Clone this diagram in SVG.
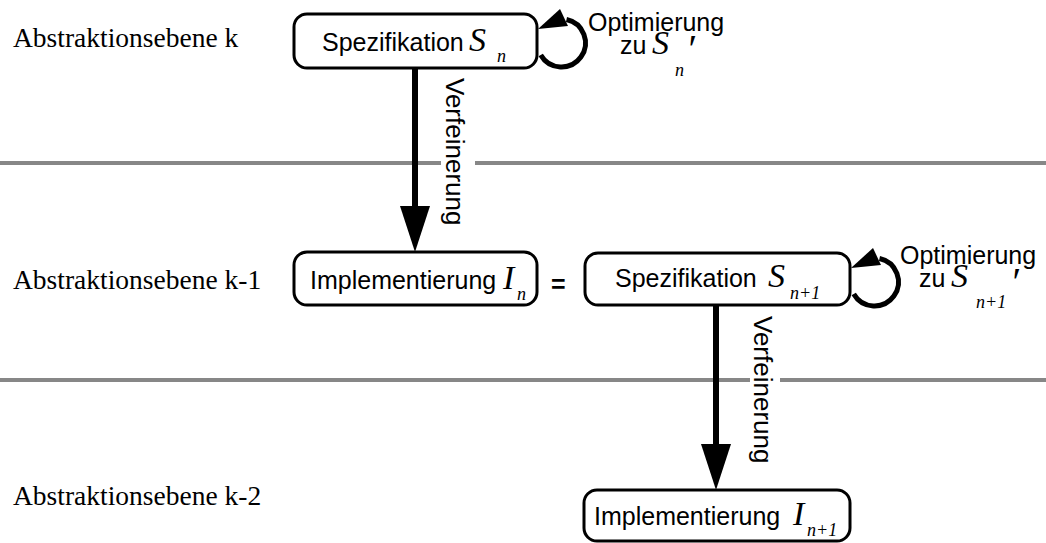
<svg xmlns="http://www.w3.org/2000/svg" width="1046" height="543" viewBox="0 0 1046 543">
<style>
.lbl{font-family:"Liberation Serif","Times New Roman",serif;font-size:27.5px;fill:#000}
.t{font-family:"Liberation Sans",Arial,sans-serif;font-size:25px;fill:#000}
.v{font-size:26px}
.m{font-family:"Liberation Serif","Times New Roman",serif;font-style:italic;fill:#000}
.big{font-size:34px}
.sub{font-size:18px}
.pr{font-size:40px}
.box{fill:#fff;stroke:#000;stroke-width:3}
.sep{stroke:#878787;stroke-width:4}
.arr{stroke:#000;stroke-width:6}
.loop{fill:none;stroke:#000;stroke-width:5}
.bg{fill:#fff}
</style>
<defs>
<g id="loopShape">
<path class="loop" d="M29.5,5.5 A24,24 0 1 1 3.7,41"/>
<polygon points="1,15 23,-5 31,12" fill="#000"/>
</g>
</defs>
<g id="separators">
<line class="sep" x1="0" y1="163" x2="1046" y2="163"/>
<line class="sep" x1="0" y1="380" x2="1046" y2="380"/>
</g>
<g id="level-labels">
<text class="lbl" x="13" y="47">Abstraktionsebene k</text>
<text class="lbl" x="13" y="289">Abstraktionsebene k-1</text>
<text class="lbl" x="13" y="505">Abstraktionsebene k-2</text>
</g>
<g id="connectors">
<rect class="bg" x="441" y="75" width="34" height="160"/>
<line class="arr" x1="415" y1="68" x2="415" y2="208"/>
<polygon points="400,206 430,206 415,252" fill="#000"/>
<text class="t v" transform="translate(446,78) rotate(90)">Verfeinerung</text>
<rect class="bg" x="750" y="312" width="30" height="160"/>
<line class="arr" x1="716" y1="305" x2="716" y2="446"/>
<polygon points="701,444 731,444 716,490" fill="#000"/>
<text class="t v" transform="translate(754,316) rotate(90)">Verfeinerung</text>
<use href="#loopShape" transform="translate(537,14)"/>
<use href="#loopShape" transform="translate(850,253)"/>
<text class="t" x="588" y="31">Optimierung</text>
<text class="t" x="620" y="54">zu</text>
<text class="m big" x="652" y="54">S</text>
<text class="m sub" x="675" y="76">n</text>
<text class="m pr" x="686" y="62">′</text>
<text class="t" x="900" y="264">Optimierung</text>
<text class="t" x="919" y="287">zu</text>
<text class="m big" x="951" y="287">S</text>
<text class="m sub" x="976" y="308">n+1</text>
<text class="m pr" x="1010" y="295">′</text>
<text class="t" x="551" y="293" font-size="36" font-weight="bold">=</text>
</g>
<g id="spec-n">
<rect class="box" x="294" y="14" width="243" height="54" rx="13"/>
<text class="t" x="322" y="51">Spezifikation</text>
<text class="m big" x="469" y="51">S</text>
<text class="m sub" x="497" y="62">n</text>
</g>
<g id="impl-n">
<rect class="box" x="294" y="252" width="243" height="53" rx="13"/>
<text class="t" x="310" y="289">Implementierung</text>
<text class="m big" x="503" y="289">I</text>
<text class="m sub" x="517" y="300">n</text>
</g>
<g id="spec-n1">
<rect class="box" x="585" y="253" width="265" height="52" rx="13"/>
<text class="t" x="615" y="287">Spezifikation</text>
<text class="m big" x="768" y="287">S</text>
<text class="m sub" x="790" y="299">n+1</text>
</g>
<g id="impl-n1">
<rect class="box" x="584" y="490" width="266" height="51" rx="13"/>
<text class="t" x="594" y="525" font-size="26">Implementierung</text>
<text class="m big" x="793" y="525">I</text>
<text class="m sub" x="807" y="536">n+1</text>
</g>
</svg>
